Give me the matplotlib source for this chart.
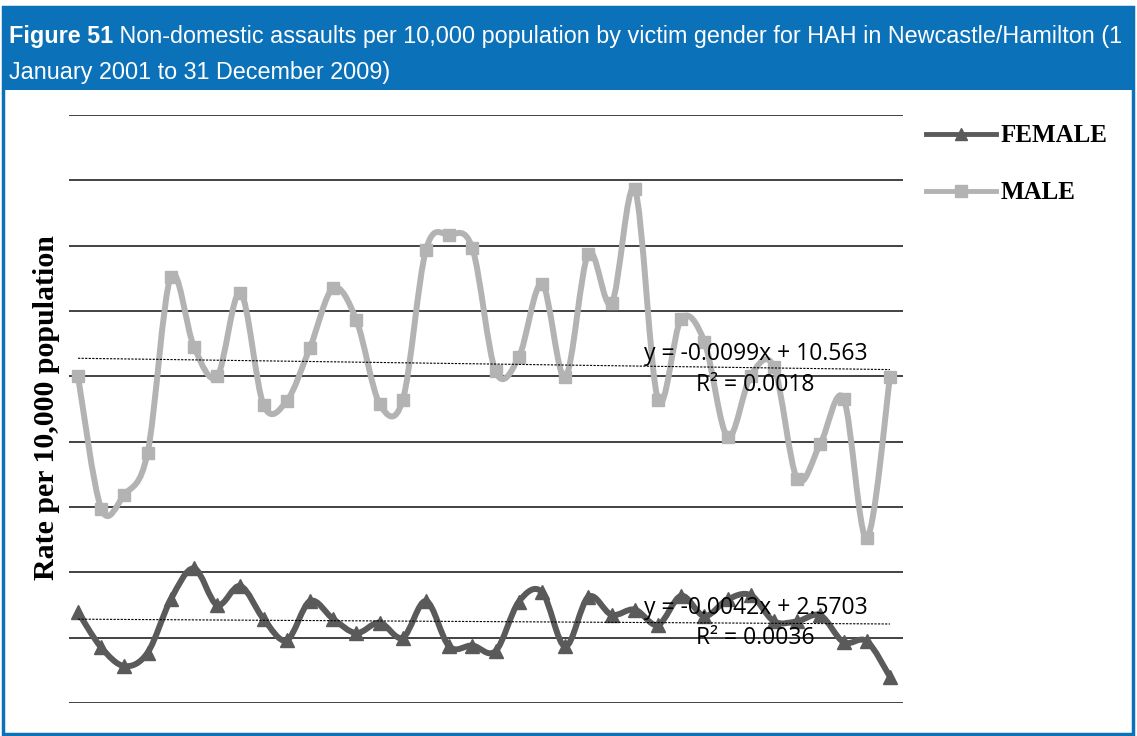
import matplotlib
matplotlib.use("Agg")
import matplotlib.pyplot as plt
from matplotlib.path import Path
from matplotlib.patches import PathPatch, Rectangle
from matplotlib.lines import Line2D
import numpy as np

quarters = list(range(1, 37))
male = [10.0, 5.95, 6.38, 7.66, 13.05, 10.9, 10.0, 12.56, 9.12, 9.25, 10.88, 12.7,
        11.72, 9.16, 9.28, 13.88, 14.33, 13.92, 10.15, 10.58, 12.83, 9.97, 13.76, 12.23,
        15.72, 9.29, 11.76, 11.06, 8.15, 10.02, 10.28, 6.86, 7.94, 9.32, 5.05, 9.98]
female = [2.78, 1.7, 1.13, 1.54, 3.17, 4.12, 3.0, 3.58, 2.57, 1.92, 3.12, 2.57,
          2.14, 2.46, 2.0, 3.12, 1.73, 1.76, 1.59, 3.1, 3.4, 1.73, 3.25, 2.7,
          2.86, 2.39, 3.28, 2.66, 3.17, 3.3, 2.5, 2.5, 2.68, 1.86, 1.89, 0.8]
series_names = ["FEMALE", "MALE"]
male_trend = (-0.0099, 10.563, "0.0018")
female_trend = (-0.0042, 2.5703, "0.0036")
title_bold = "Figure 51"
title_rest = " Non-domestic assaults per 10,000 population by victim gender for HAH in Newcastle/Hamilton (1"
title_line2 = "January 2001 to 31 December 2009)"
ylabel = "Rate per 10,000 population"

W, H = 1137, 736
fig = plt.figure(figsize=(W / 100, H / 100), dpi=100)

BLUE = "#0b72ba"
# outer frame and title bar
fig.patches.append(Rectangle((3 / W, 1 - 734 / H), 1130 / W, 727 / H, transform=fig.transFigure,
                             facecolor="white", edgecolor=BLUE, linewidth=2.5, zorder=0))
fig.patches.append(Rectangle((2 / W, 1 - 90 / H), 1132 / W, 83 / H, transform=fig.transFigure,
                             facecolor=BLUE, edgecolor="none", zorder=0.5))

narrow = ["Liberation Sans Narrow", "DejaVu Sans Condensed", "Liberation Sans", "DejaVu Sans"]
TS = 16.8
t1 = fig.text(9 / W, 1 - 36 / H, title_bold, color="white", fontsize=TS, fontweight="bold",
              family=narrow, va="center", ha="left")
fig.canvas.draw()
bb = t1.get_window_extent()
fig.text(bb.x1 / W, 1 - 36 / H, title_rest, color="white", fontsize=TS,
         family=narrow, va="center", ha="left")
fig.text(9 / W, 1 - 72 / H, title_line2, color="white", fontsize=TS,
         family=narrow, va="center", ha="left")

# axes
x0, x1 = 69, 903
ax = fig.add_axes([x0 / W, 1 - 703 / H, (x1 - x0) / W, (703 - 115) / H])
ax.set_zorder(2)
ax.patch.set_visible(False)
ax.set_xlim(1 - 9 / 23.2, 36 + 13 / 23.2)
ax.set_ylim(0, 18)
for s in ax.spines.values():
    s.set_visible(False)
ax.set_xticks([])
ax.set_yticks([])
for yv in range(0, 19, 2):
    ax.axhline(yv, color="#222222", linewidth=1.2, zorder=1)


def smooth_path(xs, ys):
    xs = np.asarray(xs, float)
    ys = np.asarray(ys, float)
    pts = np.column_stack([xs, ys])
    n = len(pts)
    verts = [pts[0]]
    codes = [Path.MOVETO]
    for i in range(n - 1):
        p0 = pts[i - 1] if i > 0 else pts[i]
        p1 = pts[i]
        p2 = pts[i + 1]
        p3 = pts[i + 2] if i + 2 < n else pts[i + 1]
        c1 = p1 + (p2 - p0) / 6.0
        c2 = p2 - (p3 - p1) / 6.0
        verts += [c1, c2, p2]
        codes += [Path.CURVE4] * 3
    return Path(verts, codes)


MALE_C = "#b3b3b3"
FEM_C = "#5a5a5a"
ax.add_patch(PathPatch(smooth_path(quarters, male), facecolor="none", edgecolor=MALE_C,
                       linewidth=4.3, zorder=3, capstyle="round", joinstyle="round"))
ax.plot(quarters, male, linestyle="none", marker="s", markersize=8, color=MALE_C, zorder=4)
ax.add_patch(PathPatch(smooth_path(quarters, female), facecolor="none", edgecolor=FEM_C,
                       linewidth=4.3, zorder=3, capstyle="round", joinstyle="round"))
ax.plot(quarters, female, linestyle="none", marker="^", markersize=10, color=FEM_C, zorder=4)

# trendlines
xt = np.array([quarters[0], quarters[-1]], float)
for (m, b, r2) in [male_trend, female_trend]:
    ax.plot(xt, m * xt + b, color="black", linewidth=0.8, linestyle=(0, (2, 1.2)), zorder=5)

lab_font = ["Open Sans", "DejaVu Sans"]
LS = 16.5
ax.text(30.2, 10.68, f"y = {male_trend[0]}x + {male_trend[1]}", fontsize=LS,
        family=lab_font, ha="center", va="center", zorder=6)
ax.text(30.2, 9.73, f"R² = {male_trend[2]}", fontsize=LS,
        family=lab_font, ha="center", va="center", zorder=6)
ax.text(30.2, 2.91, f"y = {female_trend[0]}x + {female_trend[1]}", fontsize=LS,
        family=lab_font, ha="center", va="center", zorder=6)
ax.text(30.2, 1.99, f"R² = {female_trend[2]}", fontsize=LS,
        family=lab_font, ha="center", va="center", zorder=6)

# y label
fig.text(47 / W, 1 - 408 / H, ylabel, rotation=90, fontsize=21.5, fontweight="bold",
         family=["Liberation Serif", "DejaVu Serif"], ha="center", va="center")

# legend
handles = [Line2D([], [], color=FEM_C, linewidth=3.5, marker="^", markersize=9),
           Line2D([], [], color=MALE_C, linewidth=3.5, marker="s", markersize=8)]
leg = fig.legend(handles, series_names, loc="upper left", bbox_to_anchor=(903 / W, 1 - 102 / H),
                 frameon=False, handlelength=2.8, handletextpad=0.2, labelspacing=1.35,
                 prop={"family": ["Liberation Serif", "DejaVu Serif"], "weight": "bold", "size": 18})

fig.savefig("out.png", dpi=100)
